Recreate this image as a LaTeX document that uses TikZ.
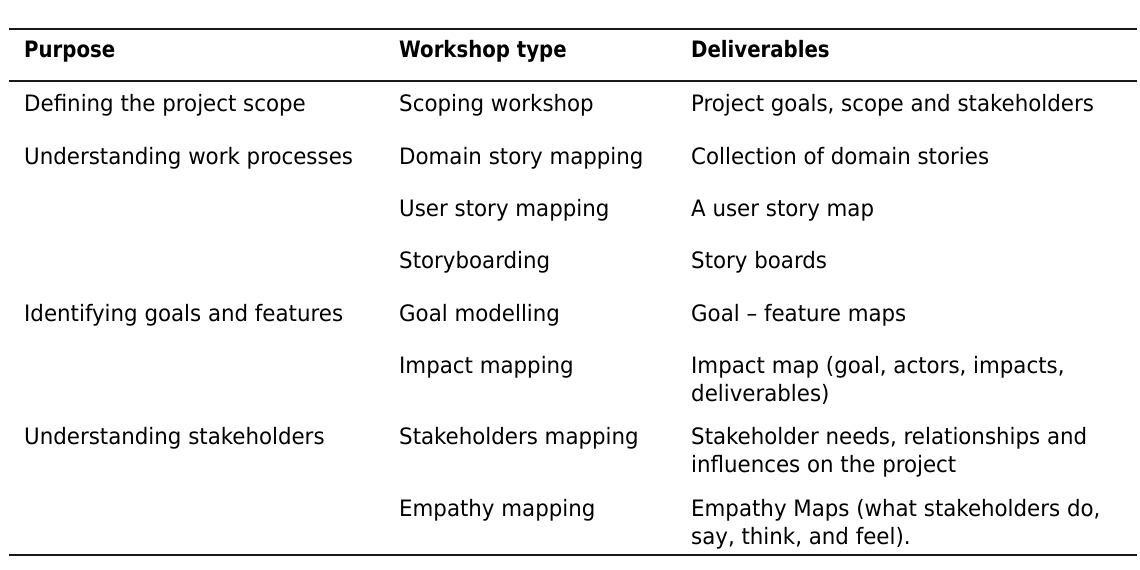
\documentclass[tikz,border=0pt]{standalone}
\usepackage{fontspec}
\setmainfont{DejaVu Sans Condensed}[FakeStretch=1.05]
\newfontfamily\headfont{DejaVu Sans Condensed}[FakeStretch=0.97]
\begin{document}
\begin{tikzpicture}[x=1pt,y=-1pt,
    cell/.style={anchor=base west,inner sep=0pt,font=\fontsize{22.6}{28}\selectfont},
    head/.style={cell,font=\fontsize{22.6}{28}\selectfont\headfont\bfseries},
    rule/.style={line width=2pt,black!90}]
      \useasboundingbox (0,0) rectangle (1140,570);

      \coordinate (tl) at (9,29);   \coordinate (tr) at (1137,29);
      \coordinate (ml) at (9,81);   \coordinate (mr) at (1137,81);
      \coordinate (bl) at (9,555);  \coordinate (br) at (1137,555);

      \node[head] (hp) at (24,57){Purpose};
      \node[head] (hw) at (399,57){Workshop type};
      \node[head] (hd) at (691,57){Deliverables};

      \node[cell] (p1) at (24,111){Defining the project scope};
      \node[cell] (w1) at (399,111){Scoping workshop};
      \node[cell] (d1) at (691,111){Project goals, scope and stakeholders};

      \node[cell] (p2) at (24,164){Understanding work processes};
      \node[cell] (w2) at (399,164){Domain story mapping};
      \node[cell] (d2) at (691,164){Collection of domain stories};

      \node[cell] (w3) at (399,216){User story mapping};
      \node[cell] (d3) at (691,216){A user story map};

      \node[cell] (w4) at (399,268){Storyboarding};
      \node[cell] (d4) at (691,268){Story boards};

      \node[cell] (p5) at (24,321){Identifying goals and features};
      \node[cell] (w5) at (399,321){Goal modelling};
      \node[cell] (d5) at (691,321){Goal -- feature maps};

      \node[cell] (w6) at (399,373){Impact mapping};
      \node[cell] (d6) at (691,373){Impact map (goal, actors, impacts,};
      \node[cell] (d6b) at (691,401){deliverables)};

      \node[cell] (p7) at (24,444){Understanding stakeholders};
      \node[cell] (w7) at (399,444){Stakeholders mapping};
      \node[cell] (d7) at (691,444){Stakeholder needs, relationships and};
      \node[cell] (d7b) at (691,472){influences on the project};

      \node[cell] (w8) at (399,516){Empathy mapping};
      \node[cell] (d8) at (691,516){Empathy Maps (what stakeholders do,};
      \node[cell] (d8b) at (691,544){say, think, and feel).};

      \draw[rule] (tl) -- (tr);
      \draw[rule] (ml) -- (mr);
      \draw[rule] (bl) -- (br);
    \end{tikzpicture}
\end{document}
